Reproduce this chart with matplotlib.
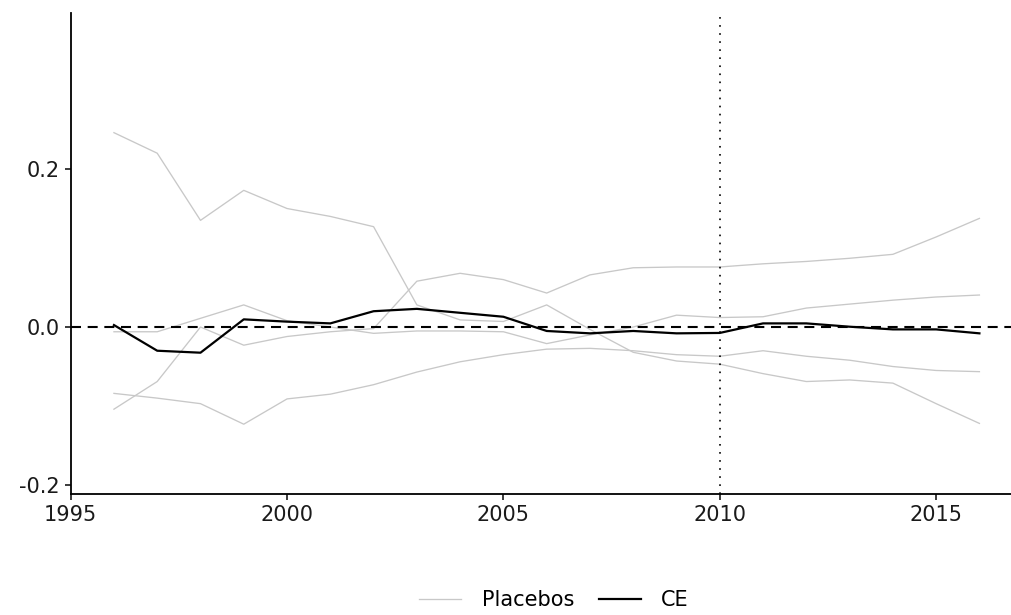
import matplotlib
matplotlib.use('Agg')
import matplotlib.pyplot as plt
import numpy as np

years = np.arange(1996, 2017)

ce = [0.0025, -0.030, -0.0325, 0.0097, 0.0068, 0.0046, 0.020, 0.023,
      0.018, 0.013, -0.005, -0.008, -0.005, -0.008, -0.0075, 0.0046,
      0.0046, 0.0004, -0.003, -0.003, -0.008]

placebos = {
    'a': [0.246, 0.220, 0.135, 0.173, 0.150, 0.140, 0.127, 0.028, 0.009,
          0.007, 0.028, -0.003, -0.032, -0.043, -0.047, -0.059, -0.069,
          -0.067, -0.071, -0.097, -0.122],
    'b': [-0.104, -0.069, 0.0, -0.023, -0.012, -0.006, -0.002, 0.058,
          0.068, 0.060, 0.043, 0.066, 0.075, 0.076, 0.076, 0.080, 0.083,
          0.087, 0.092, 0.114, 0.1375],
    'c': [-0.006, -0.006, 0.011, 0.028, 0.008, 0.0, -0.008, -0.005,
          -0.005, -0.006, -0.021, -0.010, 0.0, 0.015, 0.012, 0.013, 0.024,
          0.029, 0.034, 0.038, 0.0405],
    'd': [-0.084, -0.090, -0.097, -0.123, -0.091, -0.085, -0.073, -0.057,
          -0.044, -0.035, -0.028, -0.027, -0.030, -0.035, -0.037, -0.030,
          -0.037, -0.042, -0.050, -0.055, -0.0565],
}

treat_year = 2010
yticks = [-0.2, 0.0, 0.2]
xticks = [1995, 2000, 2005, 2010, 2015]

plt.rcParams['lines.scale_dashes'] = False

fig = plt.figure(figsize=(10.11, 6.15), dpi=100)
ax = fig.add_axes([0.0699, 0.1972, 0.9301, 0.7817])

for i, vals in enumerate(placebos.values()):
    ax.plot(years, vals, color='#c8c8c8', lw=0.95,
            label='Placebos' if i == 0 else None)
ax.plot(years, ce, color='black', lw=1.6, label='CE', zorder=3)

ax.axhline(0, color='black', lw=1.5, dashes=(7.2, 4.8), zorder=2)
ax.axvline(treat_year, color='black', lw=1.2, dashes=(1.2, 4.6), zorder=2)

ax.set_xlim(1995, 2016.73)
ax.set_ylim(-0.211, 0.3975)
ax.set_xticks(xticks)
ax.set_yticks(yticks)
ax.set_yticklabels(['-0.2', '0.0', '0.2'])

for side in ['top', 'right']:
    ax.spines[side].set_visible(False)
for side in ['left', 'bottom']:
    ax.spines[side].set_linewidth(1.3)
ax.tick_params(length=4.5, width=1.2, labelsize=15, colors='#1a1a1a',
               pad=3.5)

fig.legend(loc='center', bbox_to_anchor=(554 / 1011, 1 - 600 / 615),
           ncol=2, frameon=False, fontsize=15, handlelength=2.0,
           columnspacing=1.2, handletextpad=1.0)

fig.savefig('out.png', dpi=100)
